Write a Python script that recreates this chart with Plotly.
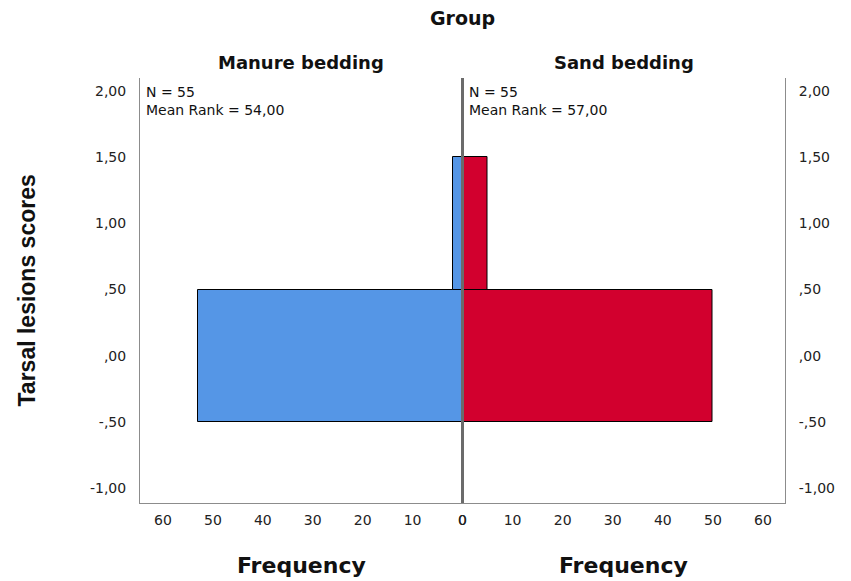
import plotly.graph_objects as go

# Data
bin_centers = [0.0, 1.0]          # bins -0.5..0.5 and 0.5..1.5
manure_freq = [53, 2]
sand_freq = [50, 5]
groups = ["Manure bedding", "Sand bedding"]
n_vals = [55, 55]
mean_ranks = ["54,00", "57,00"]
y_tickvals = [2.0, 1.5, 1.0, 0.5, 0.0, -0.5, -1.0]
y_ticktext = ["2,00", "1,50", "1,00", ",50", ",00", "-,50", "-1,00"]
x_tickvals = [0, 10, 20, 30, 40, 50, 60]

BLUE = "#5596e6"
RED = "#d2002e"
AXC = "#8c8c8c"
TICKFONT = dict(family="DejaVu Sans, Verdana", size=14, color="#222")
BOLD = "DejaVu Sans, Verdana"

fig = go.Figure()
fig.add_trace(go.Bar(y=bin_centers, x=manure_freq, width=1, orientation="h",
                     marker=dict(color=BLUE, line=dict(color="black", width=1)),
                     xaxis="x", yaxis="y", showlegend=False))
fig.add_trace(go.Bar(y=bin_centers, x=sand_freq, width=1, orientation="h",
                     marker=dict(color=RED, line=dict(color="black", width=1)),
                     xaxis="x2", yaxis="y2", showlegend=False))

yr = [-1.113, 2.098]
fig.update_layout(
    width=851, height=581,
    margin=dict(l=140, r=66, t=78, b=78),
    plot_bgcolor="white", paper_bgcolor="white",
    bargap=0,
    xaxis=dict(domain=[0, 0.5], range=[64.6, 0], tickvals=x_tickvals,
               showgrid=False, zeroline=False, showline=True, linecolor=AXC,
               linewidth=1, ticks="", tickfont=TICKFONT, anchor="y",
               ticklabelstandoff=4),
    xaxis2=dict(domain=[0.5, 1], range=[0, 64.4], tickvals=x_tickvals,
                showgrid=False, zeroline=False, showline=True, linecolor=AXC,
                linewidth=1, ticks="", tickfont=TICKFONT, anchor="y2",
                ticklabelstandoff=4),
    yaxis=dict(range=yr, tickvals=y_tickvals, ticktext=y_ticktext,
               showgrid=False, zeroline=False, showline=True, linecolor=AXC,
               linewidth=1, ticks="", tickfont=TICKFONT, anchor="x",
               ticklabelstandoff=10),
    yaxis2=dict(range=yr, tickvals=y_tickvals, ticktext=y_ticktext,
                showgrid=False, zeroline=False, showline=True, linecolor=AXC,
                linewidth=1, ticks="", tickfont=TICKFONT, anchor="x2",
                side="right", ticklabelstandoff=10),
)

# center line
fig.add_shape(type="line", xref="paper", yref="paper", x0=0.5, x1=0.5, y0=0, y1=1,
              line=dict(color="#6b6b6b", width=3))

fig.add_annotation(text="<b>Group</b>", xref="paper", yref="paper", x=0.5, y=1,
                   yshift=60, showarrow=False, font=dict(family=BOLD, size=19, color="#111"),
                   xanchor="center", yanchor="middle")
for i, g in enumerate(groups):
    xc = 0.25 + 0.5 * i
    fig.add_annotation(text="<b>%s</b>" % g, xref="paper", yref="paper", x=xc, y=1,
                       yshift=16, showarrow=False,
                       font=dict(family=BOLD, size=18, color="#111"),
                       xanchor="center", yanchor="middle")
    fig.add_annotation(text="<b>Frequency</b>", xref="paper", yref="paper", x=xc, y=0,
                       yshift=-62, showarrow=False,
                       font=dict(family=BOLD, size=22, color="#111"),
                       xanchor="center", yanchor="middle")
    fig.add_annotation(text="N = %d<br>Mean Rank = %s" % (n_vals[i], mean_ranks[i]),
                       xref="paper", yref="paper", x=0.5 * i, y=1, xshift=4, yshift=-4,
                       showarrow=False, align="left",
                       font=dict(family="DejaVu Sans, Verdana", size=14, color="#111"),
                       xanchor="left", yanchor="top")

fig.add_annotation(text="<b>Tarsal lesions scores</b>", xref="paper", yref="paper",
                   x=0, xshift=-114, y=0.5, yshift=0, textangle=-90, showarrow=False,
                   font=dict(family="Liberation Sans Narrow, Liberation Sans, Arial", size=23, color="#111"),
                   xanchor="center", yanchor="middle")

fig.write_html("out.html", config={"displayModeBar": False},
               post_script="document.body.style.margin='0';")
